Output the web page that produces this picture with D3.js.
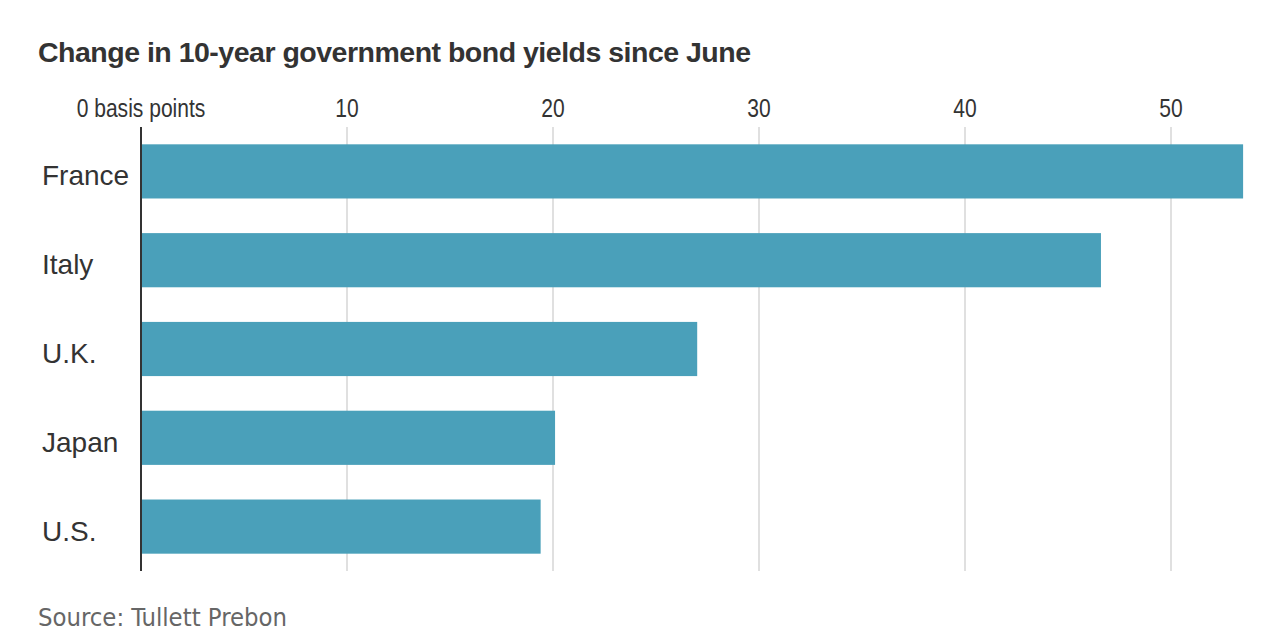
<!DOCTYPE html>
<html>
<head>
<meta charset="utf-8">
<script src="https://cdn.jsdelivr.net/npm/d3@7"></script>
<style>
  html, body { margin: 0; padding: 0; background: #fff; }
  svg { display: block; }
</style>
</head>
<body>
<div id="chart"></div>
<script>
// Data
const categories = ["France", "Italy", "U.K.", "Japan", "U.S."];
const values = [53.5, 46.6, 27.0, 20.1, 19.4];
const tickValues = [0, 10, 20, 30, 40, 50];
const tickLabels = ["0 basis points", "10", "20", "30", "40", "50"];
const title = "Change in 10-year government bond yields since June";
const source = "Source: Tullett Prebon";

const W = 1284, H = 644;
const svg = d3.select("#chart").append("svg").attr("width", W).attr("height", H);

const x = d3.scaleLinear().domain([0, 53.5]).range([141, 1243.1]);
const y = d3.scaleBand().domain(categories).range([127, 571]).paddingInner(0.39).paddingOuter(0.195);

// Title
svg.append("text")
  .attr("x", 38).attr("y", 62)
  .attr("font-family", "'Liberation Sans', Arial, sans-serif")
  .attr("font-weight", "bold")
  .attr("font-size", 28.5)
  .attr("letter-spacing", -0.5)
  .attr("fill", "#333")
  .text(title);

// Gridlines
svg.append("g").selectAll("line")
  .data(tickValues.filter(d => d > 0))
  .join("line")
  .attr("x1", d => x(d)).attr("x2", d => x(d))
  .attr("y1", 127).attr("y2", 571)
  .attr("stroke", "#e0e0e0").attr("stroke-width", 2);

// Tick labels (condensed via horizontal scale)
svg.append("g").selectAll("text")
  .data(tickValues)
  .join("text")
  .attr("transform", d => `translate(${x(d)},117) scale(0.81,1)`)
  .attr("text-anchor", "middle")
  .attr("font-family", "'Liberation Sans', Arial, sans-serif")
  .attr("font-size", 26)
  .attr("fill", "#333")
  .text((d, i) => tickLabels[i]);

// Bars
svg.append("g").selectAll("rect")
  .data(categories)
  .join("rect")
  .attr("x", x(0))
  .attr("y", d => y(d))
  .attr("width", (d, i) => x(values[i]) - x(0))
  .attr("height", y.bandwidth())
  .attr("fill", "#4aa0ba");

// Category labels
svg.append("g").selectAll("text")
  .data(categories)
  .join("text")
  .attr("x", 42)
  .attr("y", d => y(d) + y.bandwidth() / 2 + 14)
  .attr("font-family", "'Liberation Sans', Arial, sans-serif")
  .attr("font-size", 28)
  .attr("fill", "#333")
  .text(d => d);

// Zero axis line
svg.append("line")
  .attr("x1", x(0)).attr("x2", x(0))
  .attr("y1", 127).attr("y2", 571)
  .attr("stroke", "#333").attr("stroke-width", 2);

// Source
svg.append("text")
  .attr("x", 38).attr("y", 626)
  .attr("font-family", "'DejaVu Sans Condensed', 'DejaVu Sans', sans-serif")
  .attr("font-stretch", "condensed")
  .attr("font-size", 25.4)
  .attr("fill", "#666")
  .text(source);
</script>
</body>
</html>
